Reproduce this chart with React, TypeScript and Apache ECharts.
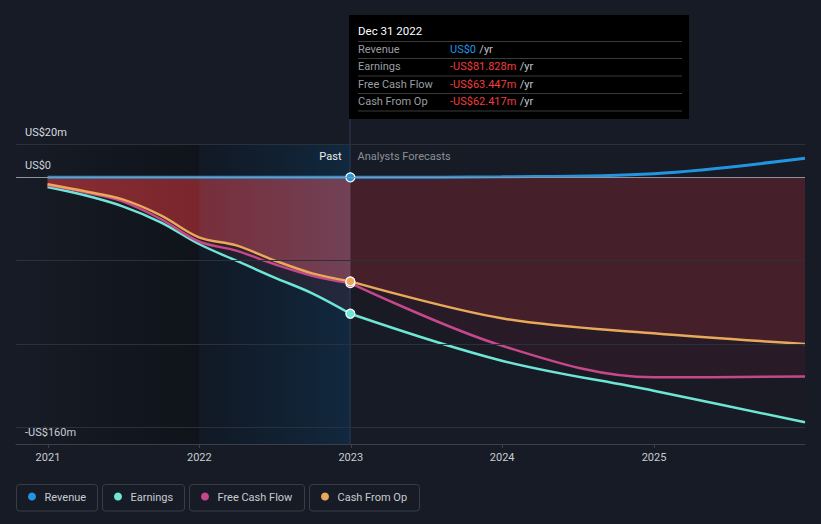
import React, { useEffect, useRef } from 'react';
import * as echarts from 'echarts';

// ---------- data ----------
const pastDates = ['2020-12-31', '2021-03-31', '2021-06-30', '2021-09-30', '2021-12-31', '2022-03-31', '2022-06-30', '2022-09-30', '2022-12-31'];
const revenuePast = [0, 0, 0, 0, 0, 0, 0, 0, 0];
const earningsPast = [-5.8, -10.8, -17.4, -27, -40, -50, -60, -69.6, -81.828];
const fcfPast = [-4.8, -9, -14.4, -25, -38.5, -44, -52, -59, -63.447];
const cfoPast = [-4.2, -8.4, -13.2, -22.8, -36, -40.8, -49.8, -57.6, -62.417];

const forecastDates = ['2022-12-31', '2023-12-31', '2024-12-31', '2025-12-31'];
const revenueForecast = [0, 0.3, 2.2, 11.5];
const earningsForecast = [-81.828, -110, -128, -147];
const fcfForecast = [-63.447, -101, -120, -119.5];
const cfoForecast = [-62.417, -84.6, -93.6, -100];

const xStart = '2020-10-16';
const xEnd = '2025-12-31';
const highlightStart = '2021-12-31';
const highlightEnd = '2022-12-31';
const xTickYears = [2021, 2022, 2023, 2024, 2025];

const yLabels: Record<string, string> = { '20': 'US$20m', '0': 'US$0', '-160': '-US$160m' };
const gridValues = [20, -50, -100, -150];

const seriesNames = ['Revenue', 'Earnings', 'Free Cash Flow', 'Cash From Op'];
const seriesColors = ['#2394e0', '#6ee6d6', '#c4488a', '#e8aa5a'];

const tooltipTitle = 'Dec 31 2022';
const tooltipValues = ['US$0', '-US$81.828m', '-US$63.447m', '-US$62.417m'];

const pastLabel = 'Past';
const forecastLabel = 'Analysts Forecasts';

// ---------- helpers ----------
const FONT = 'Roboto, "Noto Sans", sans-serif';
const t = (s: string) => {
  const [y, m, d] = s.split('-').map(Number);
  return new Date(y, m - 1, d).getTime();
};
const lg = (stops: [number, string][]) =>
  new echarts.graphic.LinearGradient(0, 0, 1, 0, stops.map(([offset, color]) => ({ offset, color })));

function buildSeries(
  name: string,
  color: string,
  dates: string[],
  vals: number[],
  area: any,
  markLast: boolean,
  width: number
) {
  const data = dates.map((d, i) => {
    if (markLast && i === dates.length - 1) {
      return {
        value: [t(d), vals[i]],
        symbol: 'circle',
        symbolSize: 9,
        itemStyle: { color, borderColor: '#ffffff', borderWidth: 1.2 },
      };
    }
    return { value: [t(d), vals[i]] };
  });
  return {
    type: 'line',
    name,
    data,
    smooth: 0.35,
    symbol: 'none',
    showSymbol: true,
    color,
    lineStyle: { color, width },
    itemStyle: { color },
    areaStyle: area ? { color: area, origin: 0 } : undefined,
    z: 3,
  };
}

export default function App() {
  const ref = useRef<HTMLDivElement>(null);

  useEffect(() => {
    if (!ref.current) return;
    const chart = echarts.init(ref.current, undefined, { renderer: 'svg' });

    const series: any[] = [
      {
        type: 'line',
        name: '_bg',
        data: [],
        z: 1,
        silent: true,
        markArea: {
          silent: true,
          z: 1,
          data: [
            [
              { xAxis: t(xStart), itemStyle: { color: lg([[0, 'rgba(0,0,0,0)'], [1, 'rgba(0,0,0,0.3)']]) } },
              { xAxis: t(highlightStart) },
            ],
            [
              { xAxis: t(highlightStart), itemStyle: { color: lg([[0, 'rgba(5,20,35,0.3)'], [1, 'rgba(10,62,105,0.38)']]) } },
              { xAxis: t(highlightEnd) },
            ],
          ],
        },
        markLine: {
          silent: true,
          z: 4,
          symbol: ['none', 'none'],
          label: { show: false },
          data: [
            ...gridValues.map((v) => ({ yAxis: v, lineStyle: { color: '#2b313a', width: 1, type: 'solid' } })),
            { yAxis: 0, lineStyle: { color: '#8e9299', width: 1, type: 'solid' } },
          ],
        },
      },
      // forecast series (drawn first)
      buildSeries(seriesNames[1], seriesColors[1], forecastDates, earningsForecast, 'rgba(120,30,40,0.06)', false, 2.5),
      buildSeries(seriesNames[2], seriesColors[2], forecastDates, fcfForecast, 'rgba(160,40,60,0.15)', false, 2.5),
      buildSeries(seriesNames[3], seriesColors[3], forecastDates, cfoForecast, 'rgba(165,44,54,0.34)', false, 2.5),
      buildSeries(seriesNames[0], seriesColors[0], forecastDates, revenueForecast, null, false, 3),
      // past series
      buildSeries(seriesNames[1], seriesColors[1], pastDates, earningsPast, 'rgba(180,50,70,0.17)', true, 2.5),
      buildSeries(seriesNames[2], seriesColors[2], pastDates, fcfPast, 'rgba(180,50,70,0.15)', true, 2.5),
      buildSeries(
        seriesNames[3],
        seriesColors[3],
        pastDates,
        cfoPast,
        lg([
          [0, 'rgba(172,50,55,1)'],
          [0.5, 'rgba(152,44,49,1)'],
          [0.505, 'rgba(148,54,66,1)'],
          [1, 'rgba(140,76,96,1)'],
        ]),
        true,
        2.5
      ),
      buildSeries(seriesNames[0], seriesColors[0], pastDates, revenuePast, null, true, 3),
    ];

    const yearTicks = xTickYears.map((y) => new Date(y, 0, 1).getTime());

    chart.setOption({
      animation: false,
      backgroundColor: '#161b25',
      textStyle: { fontFamily: FONT },
      grid: { left: 16, right: 16, top: 144, bottom: 80, containLabel: false },
      xAxis: {
        type: 'value',
        min: t(xStart),
        max: t(xEnd),
        axisLine: { show: true, onZero: false, lineStyle: { color: '#3b414b', width: 1 } },
        axisTick: {
          show: true,
          length: 4,
          lineStyle: { color: '#3b414b' },
          customValues: yearTicks,
        },
        axisLabel: {
          color: '#c8ccd2',
          fontSize: 11,
          margin: 8,
          fontFamily: FONT,
          customValues: yearTicks,
          formatter: (v: number) => String(new Date(v).getFullYear()),
        },
        splitLine: { show: false },
      },
      yAxis: {
        type: 'value',
        min: -160,
        max: 20,
        interval: 10,
        axisLine: { show: false },
        axisTick: { show: false },
        splitLine: { show: false },
        axisLabel: {
          inside: true,
          margin: 9,
          color: '#d8dbe0',
          fontSize: 11,
          fontFamily: FONT,
          verticalAlign: 'bottom',
          padding: [0, 0, 6, 0],
          formatter: (v: number) => yLabels[String(v)] ?? '',
        },
      },
      series,
    });

    const xc = chart.convertToPixel({ xAxisIndex: 0 }, t(highlightEnd)) as number;
    const x0 = Math.round(xc) - 0.5;

    const boxX = Math.round(xc) - 1;
    const rowYs = [49, 66.5, 84, 101];
    const sepYs = [41, 58, 75.5, 93, 110.5];
    const valueColors = [seriesColors[0], '#f03d3d', '#f03d3d', '#f03d3d'];

    const graphic: any[] = [
      {
        type: 'line',
        z: 0,
        silent: true,
        shape: { x1: x0 + 0.5, y1: 119, x2: x0 + 0.5, y2: 444 },
        style: { stroke: '#2c3d4e', lineWidth: 1 },
      },
      {
        type: 'rect',
        silent: true,
        z: 10,
        shape: { x: boxX, y: 15, width: 340, height: 104 },
        style: { fill: '#000000' },
      },
      {
        type: 'text',
        z: 11,
        silent: true,
        x: boxX + 9,
        y: 31,
        style: { text: tooltipTitle, fill: '#ffffff', font: `11.5px ${FONT}`, verticalAlign: 'middle' },
      },
      ...sepYs.map((y) => ({
        type: 'line',
        z: 11,
        silent: true,
        shape: { x1: boxX + 9, y1: y + 0.5, x2: boxX + 333, y2: y + 0.5 },
        style: { stroke: '#3a3a3a', lineWidth: 1 },
      })),
      ...seriesNames.map((n, i) => ({
        type: 'text',
        z: 11,
        silent: true,
        x: boxX + 9,
        y: rowYs[i],
        style: { text: n, fill: '#9a9ea4', font: `11px ${FONT}`, verticalAlign: 'middle' },
      })),
      ...tooltipValues.map((v, i) => ({
        type: 'text',
        z: 11,
        silent: true,
        x: boxX + 101,
        y: rowYs[i],
        style: {
          text: `{v|${v}} {u|/yr}`,
          verticalAlign: 'middle',
          rich: {
            v: { fill: valueColors[i], font: `11px ${FONT}` },
            u: { fill: '#c2c5ca', font: `11px ${FONT}` },
          },
        },
      })),
      {
        type: 'text',
        z: 11,
        silent: true,
        x: x0 - 8,
        y: 156,
        style: { text: pastLabel, fill: '#eceef0', font: `11px ${FONT}`, align: 'right', verticalAlign: 'middle' },
      },
      {
        type: 'text',
        z: 11,
        silent: true,
        x: x0 + 8,
        y: 156,
        style: { text: forecastLabel, fill: '#8b9097', font: `11px ${FONT}`, align: 'left', verticalAlign: 'middle' },
      },
    ];

    const legendBoxes = [
      { x: 16.5, w: 81 },
      { x: 102.5, w: 82 },
      { x: 189.5, w: 115 },
      { x: 309.5, w: 110 },
    ];
    legendBoxes.forEach((b, i) => {
      graphic.push({
        type: 'rect',
        silent: true,
        shape: { x: b.x, y: 484.5, width: b.w, height: 26.5, r: 3 },
        style: { fill: 'rgba(0,0,0,0)', stroke: '#383e48', lineWidth: 1 },
      });
      graphic.push({
        type: 'circle',
        silent: true,
        shape: { cx: b.x + 15.5, cy: 496.5, r: 4 },
        style: { fill: seriesColors[i] },
      });
      graphic.push({
        type: 'text',
        silent: true,
        x: b.x + 28,
        y: 497,
        style: { text: seriesNames[i], fill: '#c8cbd0', font: `11px ${FONT}`, verticalAlign: 'middle' },
      });
    });

    chart.setOption({ graphic });

    return () => chart.dispose();
  }, []);

  return (
    <div
      ref={ref}
      style={{ position: 'fixed', left: 0, top: 0, width: 821, height: 524, background: '#161b25' }}
    />
  );
}
